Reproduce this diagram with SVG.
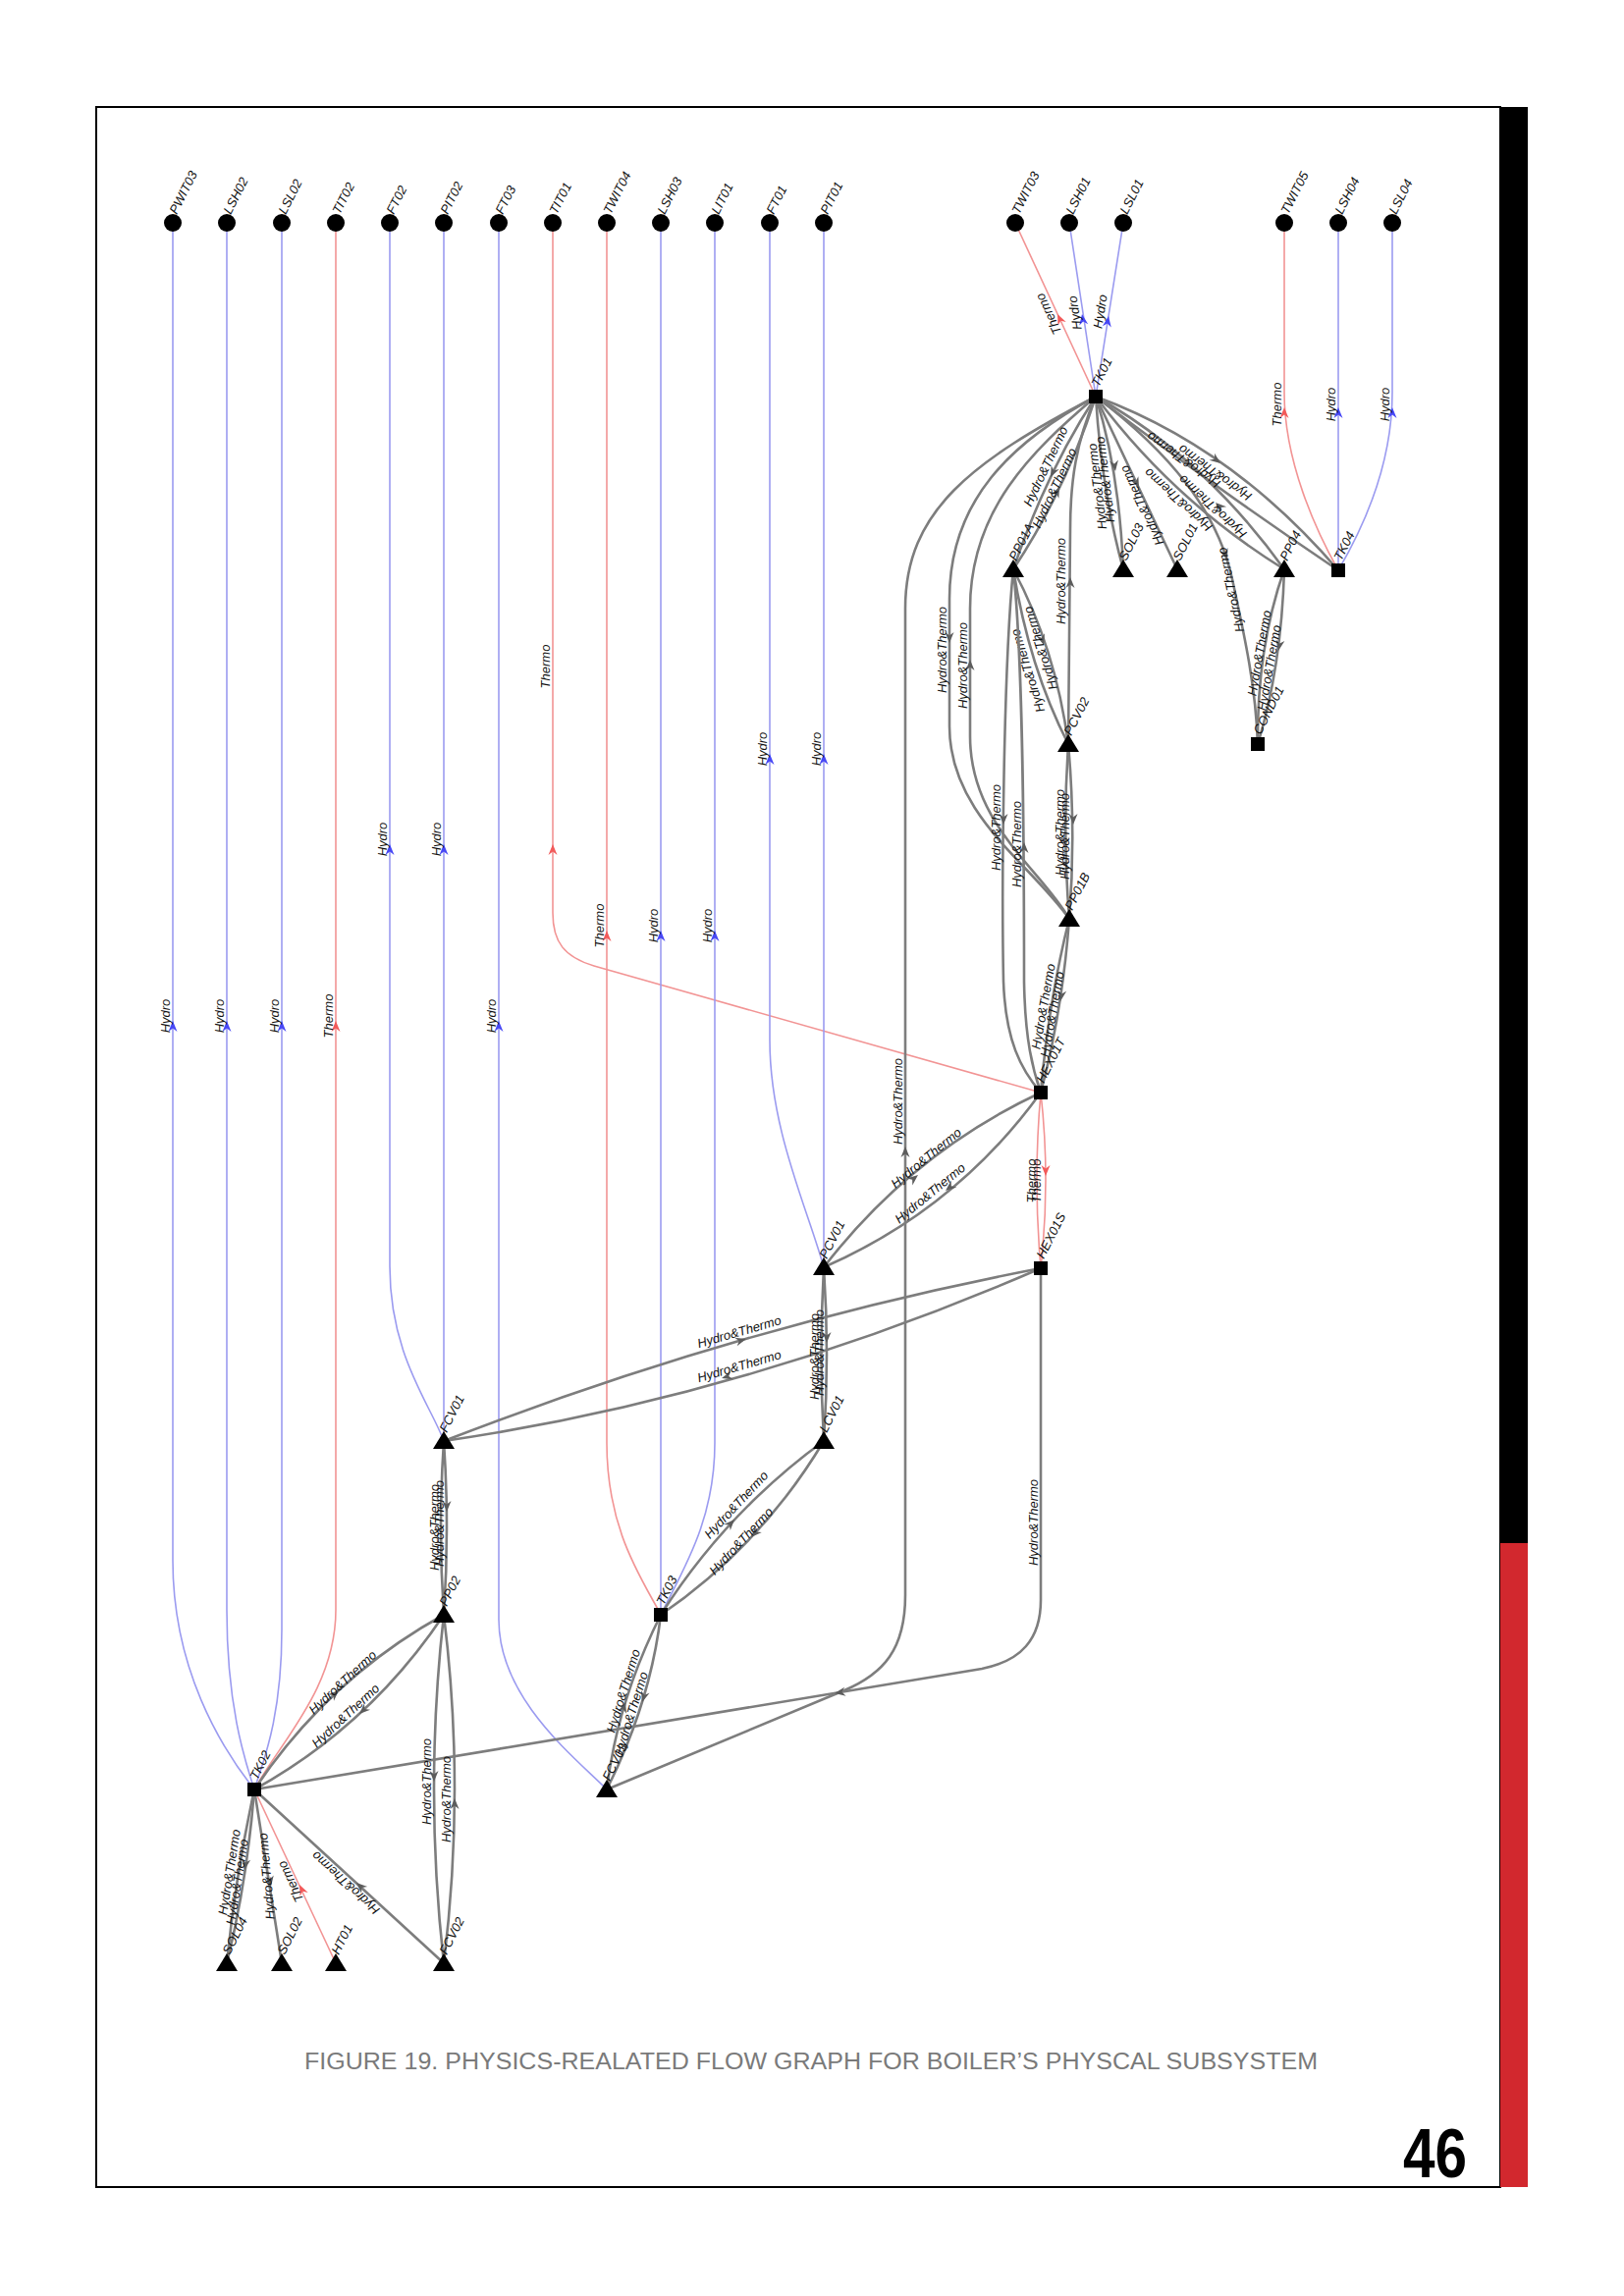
<svg xmlns="http://www.w3.org/2000/svg" width="1654" height="2339" viewBox="0 0 1654 2339">
<defs>
<style>
text{font-family:"Liberation Sans",Arial,sans-serif}
.e{fill:none;stroke-linecap:round}
.g{stroke:#7d7d7d;stroke-width:2.6}
.b{stroke:#9b9bf0;stroke-width:1.6}
.r{stroke:#f29494;stroke-width:1.6}
.ag{fill:#5c5c5c}.ab{fill:#4747f5}.ar{fill:#f25a5a}
.el{font-size:13px;font-style:italic;text-anchor:middle;fill:#111}
.nl{font-size:13px;font-style:italic;fill:#111}
.nd{fill:#000}
</style>
<path id="ah" d="M0,0 L-11,-4.5 L-7.5,0 L-11,4.5 Z"/>
<path id="tri" d="M0,-10 L11,8 L-11,8 Z"/>
<rect id="sq" x="-7" y="-7" width="14" height="14"/>
<circle id="ci" r="9"/>
</defs>
<rect width="1654" height="2339" fill="#fff"/>
<g id="frame">
<rect x="98" y="109" width="1430" height="2119" fill="none" stroke="#000" stroke-width="2"/>
<rect x="1528" y="109" width="28" height="1463" fill="#000"/>
<rect x="1528" y="1572" width="28" height="656" fill="#d2282e"/>
</g>
<g id="connectors">
<!-- blue / red sensor edges -->
<path class="e b" d="M176,227 V1590 C176,1700 225,1780 259,1823"/>
<use href="#ah" class="ab" transform="translate(176,1040) rotate(-90)"/>
<text class="el" transform="translate(173,1035) rotate(-90)">Hydro</text>
<path class="e b" d="M231,227 V1640 C231,1740 250,1795 259,1823"/>
<use href="#ah" class="ab" transform="translate(231,1040) rotate(-90)"/>
<text class="el" transform="translate(228,1035) rotate(-90)">Hydro</text>
<path class="e b" d="M287,227 V1660 C287,1750 268,1795 259,1823"/>
<use href="#ah" class="ab" transform="translate(287,1040) rotate(-90)"/>
<text class="el" transform="translate(284,1035) rotate(-90)">Hydro</text>
<path class="e r" d="M342,227 V1640 C342,1720 285,1775 259,1823"/>
<use href="#ah" class="ar" transform="translate(342,1040) rotate(-90)"/>
<text class="el" transform="translate(339,1035) rotate(-90)">Thermo</text>
<path class="e b" d="M397,227 V1290 C397,1380 438,1430 452,1468"/>
<use href="#ah" class="ab" transform="translate(397,860) rotate(-90)"/>
<text class="el" transform="translate(394,855) rotate(-90)">Hydro</text>
<path class="e b" d="M452,227 V1468"/>
<use href="#ah" class="ab" transform="translate(452,860) rotate(-90)"/>
<text class="el" transform="translate(449,855) rotate(-90)">Hydro</text>
<path class="e b" d="M508,227 V1650 C508,1730 585,1790 618,1823"/>
<use href="#ah" class="ab" transform="translate(508,1040) rotate(-90)"/>
<text class="el" transform="translate(505,1035) rotate(-90)">Hydro</text>
<path class="e r" d="M563,227 V930 C563,960 575,975 605,984 L1060,1113"/>
<use href="#ah" class="ar" transform="translate(563,860) rotate(-90)"/>
<text class="el" transform="translate(560,679) rotate(-90)">Thermo</text>
<path class="e r" d="M618,227 V1470 C618,1560 655,1610 673,1645"/>
<use href="#ah" class="ar" transform="translate(618,948) rotate(-90)"/>
<text class="el" transform="translate(615,943) rotate(-90)">Thermo</text>
<path class="e b" d="M673,227 V1645"/>
<use href="#ah" class="ab" transform="translate(673,948) rotate(-90)"/>
<text class="el" transform="translate(670,943) rotate(-90)">Hydro</text>
<path class="e b" d="M728,227 V1470 C728,1550 695,1600 673,1645"/>
<use href="#ah" class="ab" transform="translate(728,948) rotate(-90)"/>
<text class="el" transform="translate(725,943) rotate(-90)">Hydro</text>
<path class="e b" d="M784,227 V1060 C784,1150 822,1230 839,1291"/>
<use href="#ah" class="ab" transform="translate(784,768) rotate(-90)"/>
<text class="el" transform="translate(781,763) rotate(-90)">Hydro</text>
<path class="e b" d="M839,227 V1291"/>
<use href="#ah" class="ab" transform="translate(839,768) rotate(-90)"/>
<text class="el" transform="translate(836,763) rotate(-90)">Hydro</text>
<path class="e r" d="M1034,227 L1116,404"/>
<use href="#ah" class="ar" transform="translate(1077,320) rotate(-115)"/>
<text class="el" transform="translate(1072,318) rotate(-115)">Thermo</text>
<path class="e b" d="M1089,227 L1116,404"/>
<use href="#ah" class="ab" transform="translate(1102,320) rotate(-99)"/>
<text class="el" transform="translate(1099,318) rotate(-99)">Hydro</text>
<path class="e b" d="M1144,227 L1116,404"/>
<use href="#ah" class="ab" transform="translate(1129,322) rotate(-81)"/>
<text class="el" transform="translate(1125,318) rotate(-81)">Hydro</text>
<path class="e r" d="M1308,227 V400 C1308,470 1340,540 1363,581"/>
<use href="#ah" class="ar" transform="translate(1308,415) rotate(-90)"/>
<text class="el" transform="translate(1305,412) rotate(-90)">Thermo</text>
<path class="e b" d="M1363,227 V581"/>
<use href="#ah" class="ab" transform="translate(1363,415) rotate(-90)"/>
<text class="el" transform="translate(1360,412) rotate(-90)">Hydro</text>
<path class="e b" d="M1418,227 V400 C1418,470 1390,535 1363,581"/>
<use href="#ah" class="ab" transform="translate(1418,415) rotate(-90)"/>
<text class="el" transform="translate(1415,412) rotate(-90)">Hydro</text>
<path class="e r" d="M342,2000 L259,1823"/>
<use href="#ah" class="ar" transform="translate(305,1920) rotate(-115)"/>
<text class="el" transform="translate(300,1915) rotate(-115)">Thermo</text>
<path class="e r" d="M1060,1113 Q1052,1202 1060,1292"/>
<path class="e r" d="M1060,1113 Q1070,1202 1060,1292"/>
<use href="#ah" class="ar" transform="translate(1065,1198) rotate(90)"/>
<text class="el" transform="translate(1055,1203) rotate(-90)">Thermo</text>
<text class="el" transform="translate(1060,1203) rotate(-90)">Thermo</text>
<!-- gray edges -->
<path class="e g" d="M1116,404 C990,470 922,520 922,620 V1625 C922,1680 900,1705 860,1722 L618,1823"/>
<use href="#ah" class="ag" transform="translate(922,1168) rotate(-90)"/>
<text class="el" transform="translate(919,1122) rotate(-90)">Hydro&amp;Thermo</text>
<path class="e g" d="M1116,404 C1030,450 967,510 967,610 V740 C967,830 1050,880 1089,936"/>
<use href="#ah" class="ag" transform="translate(967,655) rotate(90)"/>
<text class="el" transform="translate(964,662) rotate(-90)">Hydro&amp;Thermo</text>
<path class="e g" d="M1116,404 C1050,460 988,520 988,620 V750 C988,840 1060,885 1089,936"/>
<use href="#ah" class="ag" transform="translate(988,672) rotate(-90)"/>
<text class="el" transform="translate(985,678) rotate(-90)">Hydro&amp;Thermo</text>
<path class="e g" d="M1116,404 Q1066,480 1032,580"/>
<use href="#ah" class="ag" transform="translate(1070,486) rotate(115.5)"/>
<text class="el" transform="translate(1069,477) rotate(-64.5)">Hydro&amp;Thermo</text>
<path class="e g" d="M1116,404 Q1085,500 1032,580"/>
<use href="#ah" class="ag" transform="translate(1079,496) rotate(-64.5)"/>
<text class="el" transform="translate(1078,499) rotate(-64.5)">Hydro&amp;Thermo</text>
<path class="e g" d="M1116,404 C1096,450 1090,490 1090,540 L1088,758"/>
<use href="#ah" class="ag" transform="translate(1090,588) rotate(-90)"/>
<text class="el" transform="translate(1085,592) rotate(-90)">Hydro&amp;Thermo</text>
<path class="e g" d="M1116,404 Q1122,500 1144,580"/>
<path class="e g" d="M1116,404 Q1140,480 1144,580"/>
<use href="#ah" class="ag" transform="translate(1136,480) rotate(82)"/>
<text class="el" transform="translate(1122,495) rotate(-97)">Hydro&amp;Thermo</text>
<text class="el" transform="translate(1130,488) rotate(-97)">Hydro&amp;Thermo</text>
<path class="e g" d="M1116,404 L1199,580"/>
<use href="#ah" class="ag" transform="translate(1160,497) rotate(64.7)"/>
<text class="el" transform="translate(1167,513) rotate(-115)">Hydro&amp;Thermo</text>
<path class="e g" d="M1116,404 C1190,460 1240,520 1255,590 C1268,650 1279,700 1281,758"/>
<use href="#ah" class="ag" transform="translate(1250,570) rotate(70)"/>
<text class="el" transform="translate(1258,600) rotate(-102)">Hydro&amp;Thermo</text>
<path class="e g" d="M1116,404 Q1255,455 1363,581"/>
<path class="e g" d="M1116,404 Q1235,495 1363,581"/>
<path class="e g" d="M1116,404 Q1225,465 1308,580"/>
<path class="e g" d="M1116,404 Q1195,510 1308,580"/>
<use href="#ah" class="ag" transform="translate(1243,472) rotate(38)"/>
<use href="#ah" class="ag" transform="translate(1238,512) rotate(-137)"/>
<text class="el" transform="translate(1240,478) rotate(-144.4)">Hydro&amp;Thermo</text>
<text class="el" transform="translate(1208,465) rotate(-144.4)">Hydro&amp;Thermo</text>
<text class="el" transform="translate(1203,506) rotate(-137.5)">Hydro&amp;Thermo</text>
<text class="el" transform="translate(1238,513) rotate(-137.5)">Hydro&amp;Thermo</text>
<path class="e g" d="M1308,580 Q1280,660 1281,758"/>
<path class="e g" d="M1308,580 Q1305,680 1281,758"/>
<use href="#ah" class="ag" transform="translate(1302,663) rotate(100)"/>
<text class="el" transform="translate(1287,666) rotate(-80)">Hydro&amp;Thermo</text>
<text class="el" transform="translate(1297,681) rotate(-80)">Hydro&amp;Thermo</text>
<path class="e g" d="M1032,580 Q1048,680 1088,758"/>
<path class="e g" d="M1032,580 Q1075,660 1088,758"/>
<use href="#ah" class="ag" transform="translate(1063,657) rotate(72.5)"/>
<text class="el" transform="translate(1051,682) rotate(-107.5)">Hydro&amp;Thermo</text>
<text class="el" transform="translate(1064,659) rotate(-107.5)">Hydro&amp;Thermo</text>
<path class="e g" d="M1032,580 C1022,680 1020,900 1022,1000 C1024,1060 1040,1090 1060,1113"/>
<path class="e g" d="M1032,580 C1043,680 1043,900 1043,1000 C1044,1060 1052,1090 1060,1113"/>
<use href="#ah" class="ag" transform="translate(1022,840) rotate(90)"/>
<use href="#ah" class="ag" transform="translate(1043,858) rotate(-90)"/>
<text class="el" transform="translate(1019,843) rotate(-90)">Hydro&amp;Thermo</text>
<text class="el" transform="translate(1040,860) rotate(-90)">Hydro&amp;Thermo</text>
<path class="e g" d="M1088,758 Q1082,847 1089,936"/>
<path class="e g" d="M1088,758 Q1096,847 1089,936"/>
<use href="#ah" class="ag" transform="translate(1093,840) rotate(90)"/>
<text class="el" transform="translate(1084,848) rotate(-90)">Hydro&amp;Thermo</text>
<text class="el" transform="translate(1089,852) rotate(-90)">Hydro&amp;Thermo</text>
<path class="e g" d="M1089,936 Q1068,1020 1060,1113"/>
<path class="e g" d="M1089,936 Q1082,1030 1060,1113"/>
<use href="#ah" class="ag" transform="translate(1080,1020) rotate(99)"/>
<text class="el" transform="translate(1067,1026) rotate(-80)">Hydro&amp;Thermo</text>
<text class="el" transform="translate(1076,1034) rotate(-80)">Hydro&amp;Thermo</text>
<path class="e g" d="M839,1291 Q928,1175 1060,1113"/>
<path class="e g" d="M839,1291 Q974,1232 1060,1113"/>
<use href="#ah" class="ag" transform="translate(935,1197) rotate(-39)"/>
<use href="#ah" class="ag" transform="translate(963,1213) rotate(141)"/>
<text class="el" transform="translate(946,1183) rotate(-39.3)">Hydro&amp;Thermo</text>
<text class="el" transform="translate(950,1219) rotate(-39.3)">Hydro&amp;Thermo</text>
<path class="e g" d="M452,1468 Q756,1350 1060,1292"/>
<path class="e g" d="M452,1468 Q756,1424 1060,1292"/>
<use href="#ah" class="ag" transform="translate(760,1364) rotate(-16)"/>
<use href="#ah" class="ag" transform="translate(735,1404) rotate(164)"/>
<text class="el" transform="translate(754,1361) rotate(-16)">Hydro&amp;Thermo</text>
<text class="el" transform="translate(754,1396) rotate(-16)">Hydro&amp;Thermo</text>
<path class="e g" d="M1060,1292 V1630 C1060,1670 1040,1692 1000,1700 L259,1823"/>
<use href="#ah" class="ag" transform="translate(850,1725) rotate(170.6)"/>
<text class="el" transform="translate(1057,1551) rotate(-90)">Hydro&amp;Thermo</text>
<path class="e g" d="M839,1291 Q834,1380 839,1468"/>
<path class="e g" d="M839,1291 Q845,1380 839,1468"/>
<use href="#ah" class="ag" transform="translate(842,1368) rotate(90)"/>
<text class="el" transform="translate(834,1382) rotate(-90)">Hydro&amp;Thermo</text>
<text class="el" transform="translate(839,1378) rotate(-90)">Hydro&amp;Thermo</text>
<path class="e g" d="M673,1645 Q740,1540 839,1468"/>
<path class="e g" d="M673,1645 Q775,1575 839,1468"/>
<use href="#ah" class="ag" transform="translate(748,1548) rotate(-47)"/>
<use href="#ah" class="ag" transform="translate(765,1566) rotate(133)"/>
<text class="el" transform="translate(753,1536) rotate(-47)">Hydro&amp;Thermo</text>
<text class="el" transform="translate(758,1573) rotate(-47)">Hydro&amp;Thermo</text>
<path class="e g" d="M452,1468 Q446,1556 452,1645"/>
<path class="e g" d="M452,1468 Q458,1556 452,1645"/>
<use href="#ah" class="ag" transform="translate(455,1540) rotate(90)"/>
<text class="el" transform="translate(447,1556) rotate(-90)">Hydro&amp;Thermo</text>
<text class="el" transform="translate(452,1552) rotate(-90)">Hydro&amp;Thermo</text>
<path class="e g" d="M259,1823 Q334.5,1710 452,1645"/>
<path class="e g" d="M259,1823 Q376.5,1758 452,1645"/>
<use href="#ah" class="ag" transform="translate(345,1722) rotate(-43)"/>
<use href="#ah" class="ag" transform="translate(366,1746) rotate(137)"/>
<text class="el" transform="translate(352,1717) rotate(-42.7)">Hydro&amp;Thermo</text>
<text class="el" transform="translate(355,1751) rotate(-42.7)">Hydro&amp;Thermo</text>
<path class="e g" d="M452,1645 Q432,1822 452,2000"/>
<path class="e g" d="M452,1645 Q474,1822 452,2000"/>
<use href="#ah" class="ag" transform="translate(442,1815) rotate(90)"/>
<use href="#ah" class="ag" transform="translate(463,1832) rotate(-90)"/>
<text class="el" transform="translate(439,1815) rotate(-90)">Hydro&amp;Thermo</text>
<text class="el" transform="translate(459,1833) rotate(-90)">Hydro&amp;Thermo</text>
<path class="e g" d="M618,1823 Q628.5,1734 673,1645"/>
<path class="e g" d="M618,1823 Q662.5,1734 673,1645"/>
<use href="#ah" class="ag" transform="translate(637,1734) rotate(-73)"/>
<use href="#ah" class="ag" transform="translate(654,1734) rotate(107)"/>
<text class="el" transform="translate(639,1724) rotate(-72.8)">Hydro&amp;Thermo</text>
<text class="el" transform="translate(647,1747) rotate(-72.8)">Hydro&amp;Thermo</text>
<path class="e g" d="M259,1823 Q240,1910 231,2000"/>
<path class="e g" d="M259,1823 Q252,1915 231,2000"/>
<use href="#ah" class="ag" transform="translate(249,1905) rotate(99)"/>
<text class="el" transform="translate(238,1908) rotate(-81)">Hydro&amp;Thermo</text>
<text class="el" transform="translate(246,1918) rotate(-81)">Hydro&amp;Thermo</text>
<path class="e g" d="M259,1823 L287,2000"/>
<use href="#ah" class="ag" transform="translate(276,1922) rotate(81)"/>
<text class="el" transform="translate(276,1911) rotate(-95)">Hydro&amp;Thermo</text>
<path class="e g" d="M452,2000 L259,1823"/>
<use href="#ah" class="ag" transform="translate(363,1918) rotate(-137.5)"/>
<text class="el" transform="translate(355,1915) rotate(-137.5)">Hydro&amp;Thermo</text>
</g>
<g id="nodes">
<g id="n-PWIT03"><use href="#ci" class="nd" x="176" y="227"/><text class="nl" transform="translate(180,219) rotate(-63)">PWIT03</text></g>
<g id="n-LSH02"><use href="#ci" class="nd" x="231" y="227"/><text class="nl" transform="translate(235,219) rotate(-63)">LSH02</text></g>
<g id="n-LSL02"><use href="#ci" class="nd" x="287" y="227"/><text class="nl" transform="translate(291,219) rotate(-63)">LSL02</text></g>
<g id="n-TIT02"><use href="#ci" class="nd" x="342" y="227"/><text class="nl" transform="translate(346,219) rotate(-63)">TIT02</text></g>
<g id="n-FT02"><use href="#ci" class="nd" x="397" y="227"/><text class="nl" transform="translate(401,219) rotate(-63)">FT02</text></g>
<g id="n-PIT02"><use href="#ci" class="nd" x="452" y="227"/><text class="nl" transform="translate(456,219) rotate(-63)">PIT02</text></g>
<g id="n-FT03"><use href="#ci" class="nd" x="508" y="227"/><text class="nl" transform="translate(512,219) rotate(-63)">FT03</text></g>
<g id="n-TIT01"><use href="#ci" class="nd" x="563" y="227"/><text class="nl" transform="translate(567,219) rotate(-63)">TIT01</text></g>
<g id="n-TWIT04"><use href="#ci" class="nd" x="618" y="227"/><text class="nl" transform="translate(622,219) rotate(-63)">TWIT04</text></g>
<g id="n-LSH03"><use href="#ci" class="nd" x="673" y="227"/><text class="nl" transform="translate(677,219) rotate(-63)">LSH03</text></g>
<g id="n-LIT01"><use href="#ci" class="nd" x="728" y="227"/><text class="nl" transform="translate(732,219) rotate(-63)">LIT01</text></g>
<g id="n-FT01"><use href="#ci" class="nd" x="784" y="227"/><text class="nl" transform="translate(788,219) rotate(-63)">FT01</text></g>
<g id="n-PIT01"><use href="#ci" class="nd" x="839" y="227"/><text class="nl" transform="translate(843,219) rotate(-63)">PIT01</text></g>
<g id="n-TWIT03"><use href="#ci" class="nd" x="1034" y="227"/><text class="nl" transform="translate(1038,219) rotate(-63)">TWIT03</text></g>
<g id="n-LSH01"><use href="#ci" class="nd" x="1089" y="227"/><text class="nl" transform="translate(1093,219) rotate(-63)">LSH01</text></g>
<g id="n-LSL01"><use href="#ci" class="nd" x="1144" y="227"/><text class="nl" transform="translate(1148,219) rotate(-63)">LSL01</text></g>
<g id="n-TWIT05"><use href="#ci" class="nd" x="1308" y="227"/><text class="nl" transform="translate(1312,219) rotate(-63)">TWIT05</text></g>
<g id="n-LSH04"><use href="#ci" class="nd" x="1363" y="227"/><text class="nl" transform="translate(1367,219) rotate(-63)">LSH04</text></g>
<g id="n-LSL04"><use href="#ci" class="nd" x="1418" y="227"/><text class="nl" transform="translate(1422,219) rotate(-63)">LSL04</text></g>
<g id="n-TK01"><use href="#sq" class="nd" x="1116" y="404"/><text class="nl" transform="translate(1119,395) rotate(-63)">TK01</text></g>
<g id="n-PP01A"><use href="#tri" class="nd" x="1032" y="580"/><text class="nl" transform="translate(1035,572) rotate(-63)">PP01A</text></g>
<g id="n-SOL03"><use href="#tri" class="nd" x="1144" y="580"/><text class="nl" transform="translate(1147,572) rotate(-63)">SOL03</text></g>
<g id="n-SOL01"><use href="#tri" class="nd" x="1199" y="580"/><text class="nl" transform="translate(1202,572) rotate(-63)">SOL01</text></g>
<g id="n-PP04"><use href="#tri" class="nd" x="1308" y="580"/><text class="nl" transform="translate(1311,572) rotate(-63)">PP04</text></g>
<g id="n-TK04"><use href="#sq" class="nd" x="1363" y="581"/><text class="nl" transform="translate(1366,572) rotate(-63)">TK04</text></g>
<g id="n-PCV02"><use href="#tri" class="nd" x="1088" y="758"/><text class="nl" transform="translate(1091,750) rotate(-63)">PCV02</text></g>
<g id="n-COND01"><use href="#sq" class="nd" x="1281" y="758"/><text class="nl" transform="translate(1284,749) rotate(-63)">COND01</text></g>
<g id="n-PP01B"><use href="#tri" class="nd" x="1089" y="936"/><text class="nl" transform="translate(1092,928) rotate(-63)">PP01B</text></g>
<g id="n-HEX01T"><use href="#sq" class="nd" x="1060" y="1113"/><text class="nl" transform="translate(1063,1104) rotate(-63)">HEX01T</text></g>
<g id="n-HEX01S"><use href="#sq" class="nd" x="1060" y="1292"/><text class="nl" transform="translate(1063,1283) rotate(-63)">HEX01S</text></g>
<g id="n-PCV01"><use href="#tri" class="nd" x="839" y="1291"/><text class="nl" transform="translate(842,1283) rotate(-63)">PCV01</text></g>
<g id="n-LCV01"><use href="#tri" class="nd" x="839" y="1468"/><text class="nl" transform="translate(842,1460) rotate(-63)">LCV01</text></g>
<g id="n-FCV01"><use href="#tri" class="nd" x="452" y="1468"/><text class="nl" transform="translate(455,1460) rotate(-63)">FCV01</text></g>
<g id="n-PP02"><use href="#tri" class="nd" x="452" y="1645"/><text class="nl" transform="translate(455,1637) rotate(-63)">PP02</text></g>
<g id="n-TK03"><use href="#sq" class="nd" x="673" y="1645"/><text class="nl" transform="translate(676,1636) rotate(-63)">TK03</text></g>
<g id="n-FCV03"><use href="#tri" class="nd" x="618" y="1823"/><text class="nl" transform="translate(621,1815) rotate(-63)">FCV03</text></g>
<g id="n-TK02"><use href="#sq" class="nd" x="259" y="1823"/><text class="nl" transform="translate(262,1814) rotate(-63)">TK02</text></g>
<g id="n-SOL04"><use href="#tri" class="nd" x="231" y="2000"/><text class="nl" transform="translate(234,1992) rotate(-63)">SOL04</text></g>
<g id="n-SOL02"><use href="#tri" class="nd" x="287" y="2000"/><text class="nl" transform="translate(290,1992) rotate(-63)">SOL02</text></g>
<g id="n-HT01"><use href="#tri" class="nd" x="342" y="2000"/><text class="nl" transform="translate(345,1992) rotate(-63)">HT01</text></g>
<g id="n-FCV02"><use href="#tri" class="nd" x="452" y="2000"/><text class="nl" transform="translate(455,1992) rotate(-63)">FCV02</text></g>
</g>
<g id="caption">
<text x="310" y="2108" font-size="23" fill="#7a7a7a" textLength="1032" lengthAdjust="spacingAndGlyphs">FIGURE 19. PHYSICS-REALATED FLOW GRAPH FOR BOILER’S PHYSCAL SUBSYSTEM</text>
<text x="1429" y="2218" font-size="70" font-weight="bold" fill="#000" textLength="65" lengthAdjust="spacingAndGlyphs">46</text>
</g>
</svg>
